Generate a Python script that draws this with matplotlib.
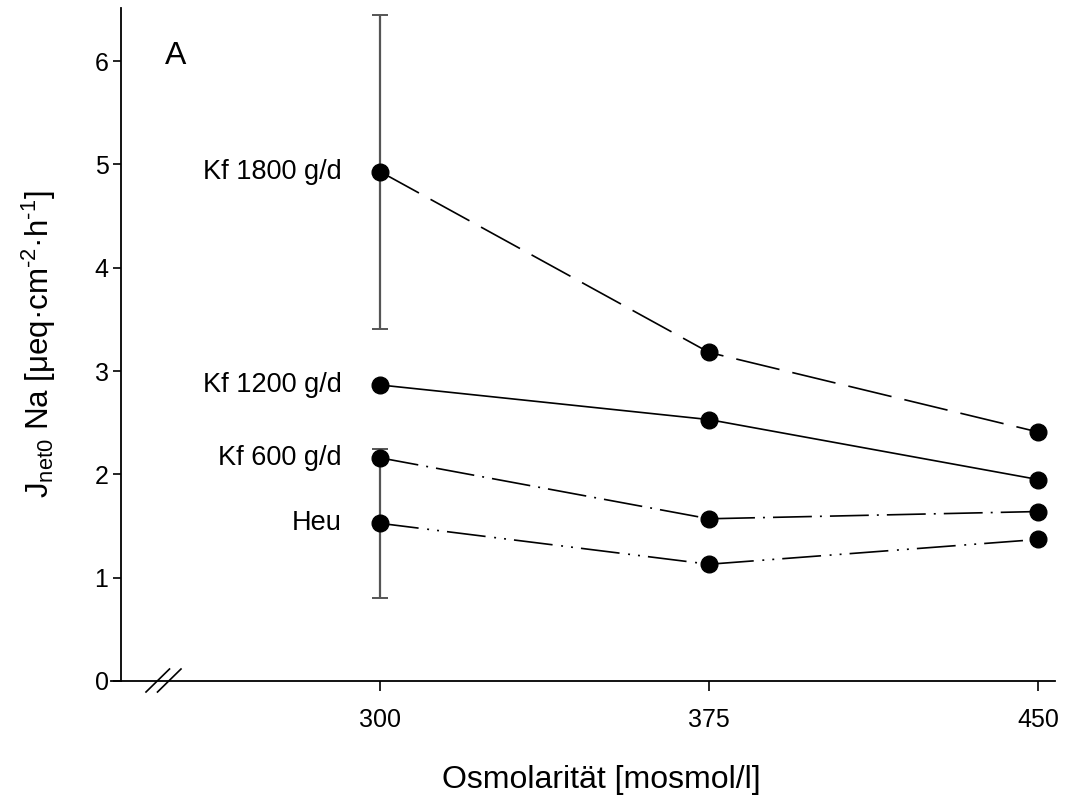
import numpy as np
import matplotlib
matplotlib.use("Agg")
import matplotlib.pyplot as plt
from matplotlib.lines import Line2D

plt.rcParams['font.family'] = ['Liberation Sans', 'DejaVu Sans']
plt.rcParams['mathtext.fontset'] = 'custom'
plt.rcParams['mathtext.rm'] = 'Liberation Sans'
plt.rcParams['mathtext.it'] = 'Liberation Sans:italic'
plt.rcParams['lines.scale_dashes'] = False

# ---- data ----
osmolarity = [300, 375, 450]
series_names = ["Kf 1800 g/d", "Kf 1200 g/d", "Kf 600 g/d", "Heu"]
kf1800 = [4.93, 3.18, 2.41]
kf1200 = [2.865, 2.53, 1.95]
kf600 = [2.16, 1.57, 1.64]
heu = [1.526, 1.13, 1.37]
kf1800_err = [1.52, np.nan, np.nan]
kf1200_err = [np.nan, np.nan, np.nan]
kf600_err = [np.nan, np.nan, np.nan]
heu_err = [0.72, np.nan, np.nan]
yticks = [0, 1, 2, 3, 4, 5, 6]
xticks = [300, 375, 450]

values = [kf1800, kf1200, kf600, heu]
errors = [kf1800_err, kf1200_err, kf600_err, heu_err]
dashes = [(0, (32, 9.5)), '-', (0, (28, 5.8, 1.4, 5.8)),
          (0, (28, 6.2, 1.4, 5.8, 1.4, 5.8))]

W, H = 1082, 796
fig = plt.figure(figsize=(W / 100, H / 100), dpi=100)
L, R, T, B = 121, 1055, 8, 681
ax = fig.add_axes([L / W, (H - B) / H, (R - L) / W, (B - T) / H])

px_per_unit = 329 / 75.0
x0 = 300 - (380 - L) / px_per_unit
x1 = 450 + (R - 1038) / px_per_unit
ax.set_xlim(x0, x1)
ax.set_ylim(0, (B - T) / 103.33)

x = np.array(osmolarity, dtype=float)
for vals, err, ls in zip(values, errors, dashes):
    vals = np.array(vals, dtype=float)
    err = np.array(err, dtype=float)
    m = np.isfinite(err)
    if m.any():
        ax.errorbar(x[m], vals[m], yerr=err[m], fmt='none', ecolor='#555555',
                    elinewidth=1.6, capsize=5.5, capthick=1.4, zorder=2)
    ax.plot(x, vals, linestyle=ls, color='black', linewidth=1.2,
            marker='o', markersize=12, markerfacecolor='black',
            markeredgecolor='black', zorder=3)

for name, vals in zip(series_names, values):
    ax.annotate(name, xy=(osmolarity[0], vals[0]), xytext=(-27.5, 0),
                textcoords='offset points', ha='right', va='center',
                fontsize=19.5)

ax.text((165 - L) / (R - L), (B - 56) / (B - T), "A", transform=ax.transAxes,
        fontsize=23, ha='left', va='center')

for s in ['top', 'right']:
    ax.spines[s].set_visible(False)
for s in ['left', 'bottom']:
    ax.spines[s].set_linewidth(1.3)

ax.set_yticks(yticks)
ax.set_xticks(xticks)
ax.tick_params(axis='y', direction='out', length=6, width=1.2, labelsize=18, pad=3)
ax.tick_params(axis='x', direction='out', length=7.5, width=1.2, labelsize=18, pad=12)

ax.set_xlabel("Osmolarität [mosmol/l]", fontsize=23, labelpad=24)
ax.xaxis.label.set_x((601 - L) / (R - L))
ax.set_ylabel(r"J$\mathregular{_{net0}}$ Na [μeq·cm$\mathregular{^{\text{-}2}}$·h$\mathregular{^{\text{-}1}}$]",
              fontsize=22.5, labelpad=26)

# extension of x-axis to the left of y-axis and axis break marks
fig.add_artist(Line2D([111 / W, L / W], [1 - B / H, 1 - B / H], color='black',
                      linewidth=1.3, transform=fig.transFigure))
for xs in (146, 157.5):
    fig.add_artist(Line2D([xs / W, (xs + 23.5) / W], [1 - 692 / H, 1 - 669 / H],
                          color='black', linewidth=1.2, transform=fig.transFigure))

fig.savefig("out.png", dpi=100)
